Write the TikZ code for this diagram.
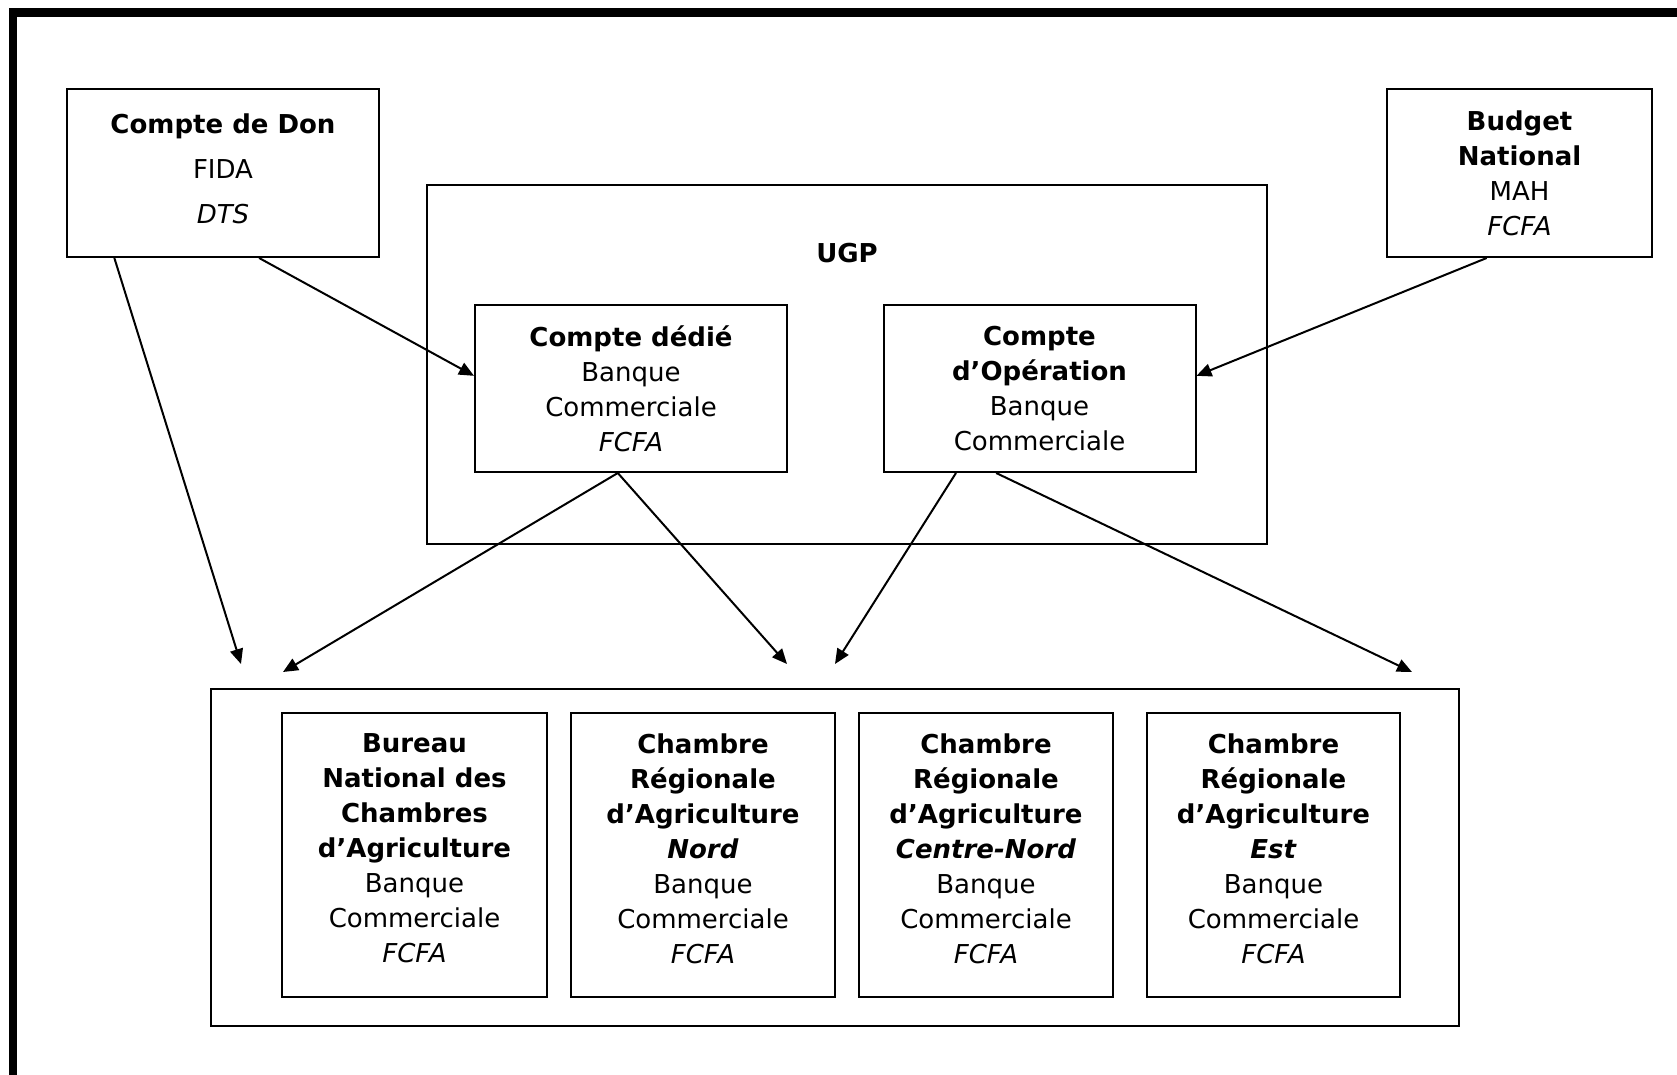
\documentclass[tikz,border=0pt]{standalone}
\usepackage{fontspec}
\setmainfont{DejaVu Sans}
\usetikzlibrary{arrows.meta,positioning,calc}
\tikzset{acct/.style={draw,line width=1pt,align=center,inner sep=0pt,font=\fontsize{13}{17.5}\selectfont}}
\tikzstyle{flow}=[->,line width=1pt]
\tikzstyle{cr}=[acct,minimum height=142pt]
% lifts the text a little inside its box
\newcommand{\lift}[1]{\\[#1]\mbox{}}

\begin{document}
\begin{tikzpicture}[x=0.5pt,y=-0.5pt,>={Triangle[length=7.5pt,width=6.5pt]}]
    \useasboundingbox (0,0) rectangle (1677,1075);
    \draw[line width=4.25pt] (13,1075) -- (13,12.5) -- (1677,12.5);
    % sources
    \node [acct,minimum width=156pt,minimum height=84pt] (don) at (223,173) {\textbf{Compte de Don}\\[5pt] FIDA\\[5pt] \textit{DTS}\lift{-13.2pt}};
    \node [acct,minimum width=132.5pt,minimum height=84pt] (budget) at (1519.5,173) {\textbf{Budget}\\ \textbf{National}\\ MAH\\ \textit{FCFA}};
    % UGP
    \node [acct,minimum width=420pt,minimum height=179.5pt] (ugp) at (847,364.5) {};
    \node [font=\fontsize{13}{17.5}\selectfont\bfseries] (ugptitle) at (847,253) {UGP};
    \node [acct,minimum width=156pt,minimum height=83.5pt] (dedie) at (631,388.5) {\textbf{Compte dédié}\\ Banque\\ Commerciale\\ \textit{FCFA}};
    \node [acct,minimum width=156pt,minimum height=83.5pt] (operation) at (1039.5,388.5) {\textbf{Compte}\\ \textbf{d’Opération}\\ Banque\\ Commerciale};
    % chambres
    \node [acct,minimum width=624pt,minimum height=168.5pt] (chambres) at (835,857.5) {};
    \node [cr,minimum width=132.5pt] (bnca) at (414.5,855) {\textbf{Bureau}\\ \textbf{National des}\\ \textbf{Chambres}\\ \textbf{d’Agriculture}\\ Banque\\ Commerciale\\ \textit{FCFA}\lift{-11pt}};
    \node [cr,minimum width=132pt] (crnord) at (703,855) {\textbf{Chambre}\\ \textbf{Régionale}\\ \textbf{d’Agriculture}\\ \textbf{\textit{Nord}}\\ Banque\\ Commerciale\\ \textit{FCFA}\lift{-11pt}};
    \node [cr,minimum width=127pt] (crcentre) at (986,855) {\textbf{Chambre}\\ \textbf{Régionale}\\ \textbf{d’Agriculture}\\ \textbf{\textit{Centre-Nord}}\\ Banque\\ Commerciale\\ \textit{FCFA}\lift{-11pt}};
    \node [cr,minimum width=126.5pt] (crest) at (1273.5,855) {\textbf{Chambre}\\ \textbf{Régionale}\\ \textbf{d’Agriculture}\\ \textbf{\textit{Est}}\\ Banque\\ Commerciale\\ \textit{FCFA}\lift{-11pt}};
    % arrow ends
    \coordinate (t1) at (241,664);
    \coordinate (t2) at (283,672);
    \coordinate (t3) at (787,664);
    \coordinate (t4) at (835,664);
    \coordinate (t5) at (1412,672);
    \path[flow] ($(don.south west)!0.154!(don.south east)$) edge (t1);
    \path[flow] ($(don.south west)!0.615!(don.south east)$) edge ($(dedie.north west)!0.425!(dedie.south west)$);
    \path[flow] ($(budget.south west)!0.377!(budget.south east)$) edge ($(operation.north east)!0.425!(operation.south east)$);
    \path[flow] ($(dedie.south west)!0.458!(dedie.south east)$) edge (t2);
    \path[flow] ($(dedie.south west)!0.458!(dedie.south east)$) edge (t3);
    \path[flow] ($(operation.south west)!0.234!(operation.south east)$) edge (t4);
    \path[flow] ($(operation.south west)!0.362!(operation.south east)$) edge (t5);
\end{tikzpicture}
\end{document}
